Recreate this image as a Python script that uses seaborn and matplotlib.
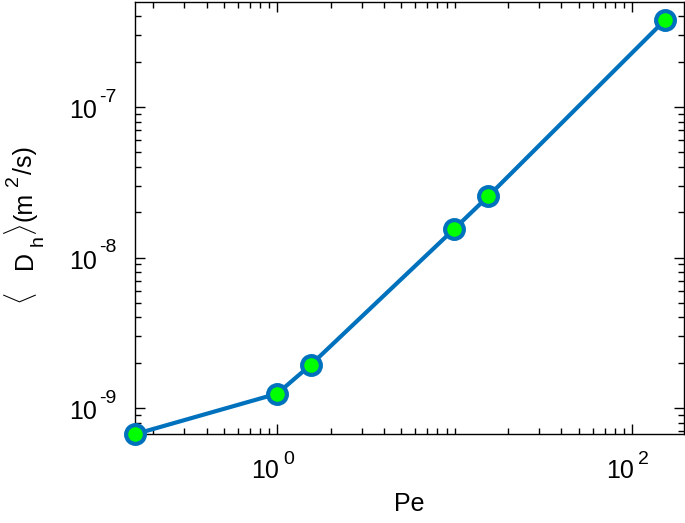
import numpy as np
import matplotlib
matplotlib.use("Agg")
import matplotlib.pyplot as plt
import matplotlib.ticker as mticker
import seaborn as sns

pe = [0.158, 1.0, 1.55, 9.9, 15.5, 153.0]
dh = [6.7e-10, 1.245e-9, 1.94e-9, 1.54e-8, 2.56e-8, 3.78e-7]
x_major = [1.0, 100.0]
x_major_exp = ["0", "2"]
y_major = [1e-9, 1e-8, 1e-7]
y_major_exp = ["-9", "-8", "-7"]
tick_base = "10"
x_label = "Pe"
# y label pieces: (text, role)  role: br = bracket, n = normal, sub = subscript, sup = superscript
y_label_parts = [(r"$\langle$", "br"), ("D", "n"), ("h", "sub"), (r"$\rangle$", "br"),
                 ("(m", "n"), ("2", "sup"), ("/s)", "n")]

sns.set_style("ticks")
plt.rcParams['font.family'] = ['Liberation Sans', 'DejaVu Sans']
plt.rcParams['text.color'] = 'black'
plt.rcParams['axes.labelcolor'] = 'black'
plt.rcParams['xtick.color'] = 'black'
plt.rcParams['ytick.color'] = 'black'

W, H = 685, 523
fig = plt.figure(figsize=(W / 100, H / 100), dpi=100)
ax = fig.add_axes([0.197, 0.170, 0.8015, 0.826])

sns.lineplot(x=pe, y=dh, ax=ax, color='#0072BD', linewidth=3.0,
             marker='o', markersize=13.5, markerfacecolor='#00FF00',
             markeredgecolor='#0072BD', markeredgewidth=3.0,
             clip_on=False, zorder=5)

ax.set_xscale('log')
ax.set_yscale('log')
ax.set_xlim(0.158, 196)
ax.set_ylim(6.71e-10, 4.98e-7)

ax.xaxis.set_major_locator(mticker.FixedLocator(x_major))
ax.xaxis.set_major_formatter(mticker.NullFormatter())
ax.xaxis.set_minor_locator(mticker.LogLocator(base=10, subs=np.arange(1, 10), numticks=20))
ax.xaxis.set_minor_formatter(mticker.NullFormatter())
ax.yaxis.set_major_locator(mticker.FixedLocator(y_major))
ax.yaxis.set_major_formatter(mticker.NullFormatter())
ax.yaxis.set_minor_locator(mticker.LogLocator(base=10, subs=np.arange(2, 10), numticks=20))
ax.yaxis.set_minor_formatter(mticker.NullFormatter())

ax.tick_params(which='both', direction='in', top=True, right=True, color='black', width=1)
ax.tick_params(which='major', length=7)
ax.tick_params(which='minor', length=4)
for s in ax.spines.values():
    s.set_color('black')
    s.set_linewidth(1)

PT = 0.72  # points per pixel at 100 dpi
BASE_FS, EXP_FS = 18, 14

# MATLAB-style tick labels "10" with raised exponent, anchored at the tick values
for v, e in zip(x_major, x_major_exp):
    ax.annotate(tick_base, xy=(v, 0), xycoords=('data', 'axes fraction'),
                xytext=(2 * PT, -44 * PT), textcoords='offset points',
                ha='right', va='baseline', fontsize=BASE_FS, annotation_clip=False)
    ax.annotate(e, xy=(v, 0), xycoords=('data', 'axes fraction'),
                xytext=(6 * PT, -30 * PT), textcoords='offset points',
                ha='left', va='baseline', fontsize=EXP_FS, annotation_clip=False)
for v, e in zip(y_major, y_major_exp):
    ax.annotate(tick_base, xy=(0, v), xycoords=('axes fraction', 'data'),
                xytext=(-37.5 * PT, -11.3 * PT), textcoords='offset points',
                ha='right', va='baseline', fontsize=BASE_FS, annotation_clip=False)
    ax.annotate(e, xy=(0, v), xycoords=('axes fraction', 'data'),
                xytext=(-35.5 * PT, 5.5 * PT), textcoords='offset points',
                ha='left', va='baseline', fontsize=EXP_FS, annotation_clip=False)

ax.set_xlabel(x_label, fontsize=18)
ax.xaxis.set_label_coords(0.5, -0.134)

# rotated y label built from pieces (baseline x in px, start y in px from top)
y_starts = [305, 269, 246, 236, 221, 186, 174]
base_x = {"br": 31.7, "n": 31.7, "sub": 43.0, "sup": 18.0}
sizes = {"br": 19, "n": BASE_FS, "sub": EXP_FS, "sup": EXP_FS}
for (txt, role), ys in zip(y_label_parts, y_starts):
    kw = {'math_fontfamily': 'cm'} if role == "br" else {}
    fig.text(base_x[role] / W, 1 - ys / H, txt, rotation=90, rotation_mode='anchor',
             ha='left', va='baseline', fontsize=sizes[role], **kw)

fig.savefig('out.png', dpi=100)
